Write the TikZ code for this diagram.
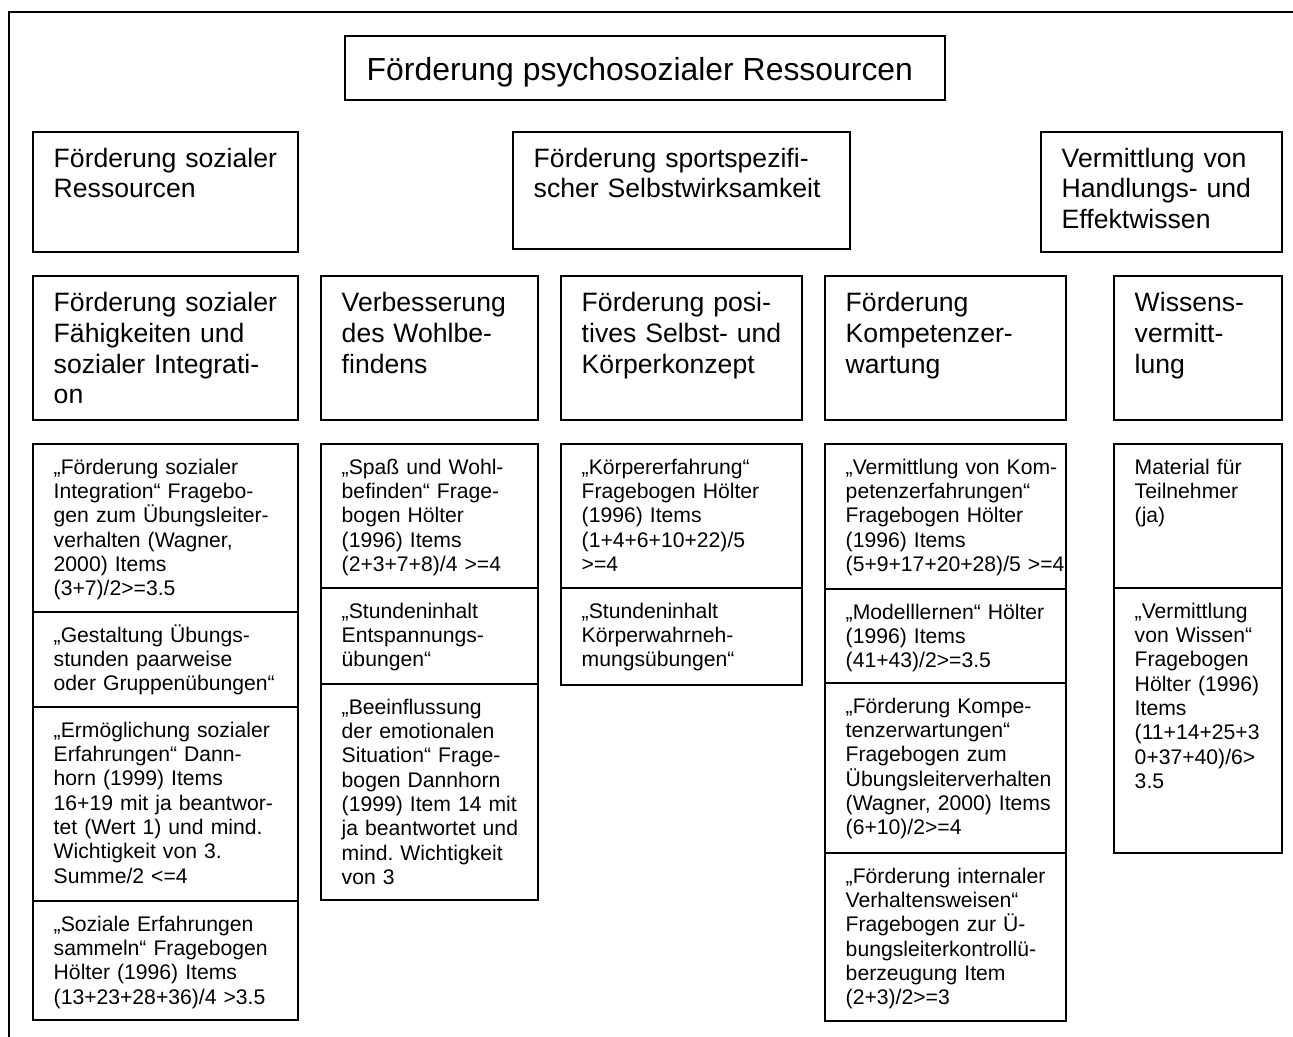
\documentclass[tikz,border=0pt]{standalone}
\usepackage{fontspec}
\setmainfont{Liberation Sans}
\usetikzlibrary{fit}
\frenchspacing
\tikzset{
  boxnode/.style={draw, line width=0.6pt, inner sep=0pt},
  frameline/.style={draw, line width=0.6pt},
  smalltxt/.style={anchor=base west, inner sep=0pt, align=left, text width=150pt,
                   font=\fontsize{7.95}{9.15}\selectfont\frenchspacing},
  headtxt/.style={anchor=base west, inner sep=0pt, align=left, text width=150pt,
                  font=\fontsize{10}{11.55}\selectfont\frenchspacing},
  titletxt/.style={anchor=base west, inner sep=0pt, font=\fontsize{12}{14}\selectfont}
}
\newcommand{\mybox}[8]{%
  \node[boxnode, fit={(#2,#3) (#4,#5)}] (#1) {};
  \node[#6] (#1t) at ([shift={(21,#7)}]#1.north west) {#8};
}
\begin{document}
\begin{tikzpicture}[x=0.376pt, y=-0.376pt]
\useasboundingbox (0,0) rectangle (1293,1037);
\coordinate (frTR) at (1293,12);
\coordinate (frTL) at (9,12);
\coordinate (frBL) at (9,1037);
\draw[frameline] (frTR) -- (frTL) -- (frBL);

% title
\node[boxnode, fit={(345,36) (945,100)}] (title) {};
\node[titletxt] (titlet) at ([shift={(22,45)}]title.north west) {Förderung psychosozialer Ressourcen};

% row 2
\mybox{ra}{33}{132}{298}{252}{headtxt}{36}{Förderung sozialer\\Ressourcen}
\mybox{rb}{513}{132}{850}{249}{headtxt}{36}{Förderung sportspezifi-\\scher Selbstwirksamkeit}
\mybox{rc}{1041}{132}{1282}{252}{headtxt}{36}{Vermittlung von\\Handlungs- und\\Effektwissen}

% row 3
\mybox{h1}{33}{276}{298}{420}{headtxt}{36.5}{Förderung sozialer\\Fähigkeiten und\\sozialer Integrati-\\on}
\mybox{h2}{321}{276}{538}{420}{headtxt}{36.5}{Verbesserung\\des Wohlbe-\\findens}
\mybox{h3}{561}{276}{802}{420}{headtxt}{36.5}{Förderung posi-\\tives Selbst- und\\Körperkonzept}
\mybox{h4}{825}{276}{1066}{420}{headtxt}{36.5}{Förderung\\Kompetenzer-\\wartung}
\mybox{h5}{1114}{276}{1282}{420}{headtxt}{36.5}{Wissens-\\vermitt-\\lung}

% column 1
\mybox{ca}{33}{444}{298}{612}{smalltxt}{31}{„Förderung sozialer\\Integration“ Fragebo-\\gen zum Übungsleiter-\\verhalten (Wagner,\\2000) Items\\(3+7)/2>=3.5}
\mybox{cb}{33}{612}{298}{707}{smalltxt}{31}{„Gestaltung Übungs-\\stunden paarweise\\oder Gruppenübungen“}
\mybox{cc}{33}{707}{298}{901}{smalltxt}{31}{„Ermöglichung sozialer\\Erfahrungen“ Dann-\\horn (1999) Items\\16+19 mit ja beantwor-\\tet (Wert 1) und mind.\\Wichtigkeit von 3.\\Summe/2 <=4}
\mybox{cd}{33}{901}{298}{1020}{smalltxt}{31}{„Soziale Erfahrungen\\sammeln“ Fragebogen\\Hölter (1996) Items\\(13+23+28+36)/4 >3.5}

% column 2
\mybox{da}{321}{444}{538}{588}{smalltxt}{31}{„Spaß und Wohl-\\befinden“ Frage-\\bogen Hölter\\(1996) Items\\(2+3+7+8)/4 >=4}
\mybox{db}{321}{588}{538}{684}{smalltxt}{31}{„Stundeninhalt\\Entspannungs-\\übungen“}
\mybox{dc}{321}{684}{538}{900}{smalltxt}{31}{„Beeinflussung\\der emotionalen\\Situation“ Frage-\\bogen Dannhorn\\(1999) Item 14 mit\\ja beantwortet und\\mind. Wichtigkeit\\von 3}

% column 3
\mybox{ea}{561}{444}{802}{588}{smalltxt}{31}{„Körpererfahrung“\\Fragebogen Hölter\\(1996) Items\\(1+4+6+10+22)/5\\>=4}
\mybox{eb}{561}{588}{802}{685}{smalltxt}{31}{„Stundeninhalt\\Körperwahrneh-\\mungsübungen“}

% column 4
\mybox{fa}{825}{444}{1066}{589}{smalltxt}{31}{„Vermittlung von Kom-\\petenzerfahrungen“\\Fragebogen Hölter\\(1996) Items\\(5+9+17+20+28)/5 >=4}
\mybox{fb}{825}{589}{1066}{683}{smalltxt}{31}{„Modelllernen“ Hölter\\(1996) Items\\(41+43)/2>=3.5}
\mybox{fc}{825}{683}{1066}{853}{smalltxt}{31}{„Förderung Kompe-\\tenzerwartungen“\\Fragebogen zum\\Übungsleiterverhalten\\(Wagner, 2000) Items\\(6+10)/2>=4}
\mybox{fd}{825}{853}{1066}{1021}{smalltxt}{31}{„Förderung internaler\\Verhaltensweisen“\\Fragebogen zur Ü-\\bungsleiterkontrollü-\\berzeugung Item\\(2+3)/2>=3}

% column 5
\mybox{ga}{1114}{444}{1282}{588}{smalltxt}{31}{Material für\\Teilnehmer\\(ja)}
\mybox{gb}{1114}{588}{1282}{853}{smalltxt}{31}{„Vermittlung\\von Wissen“\\Fragebogen\\Hölter (1996)\\Items\\(11+14+25+3\\0+37+40)/6>\\3.5}
\end{tikzpicture}
\end{document}
